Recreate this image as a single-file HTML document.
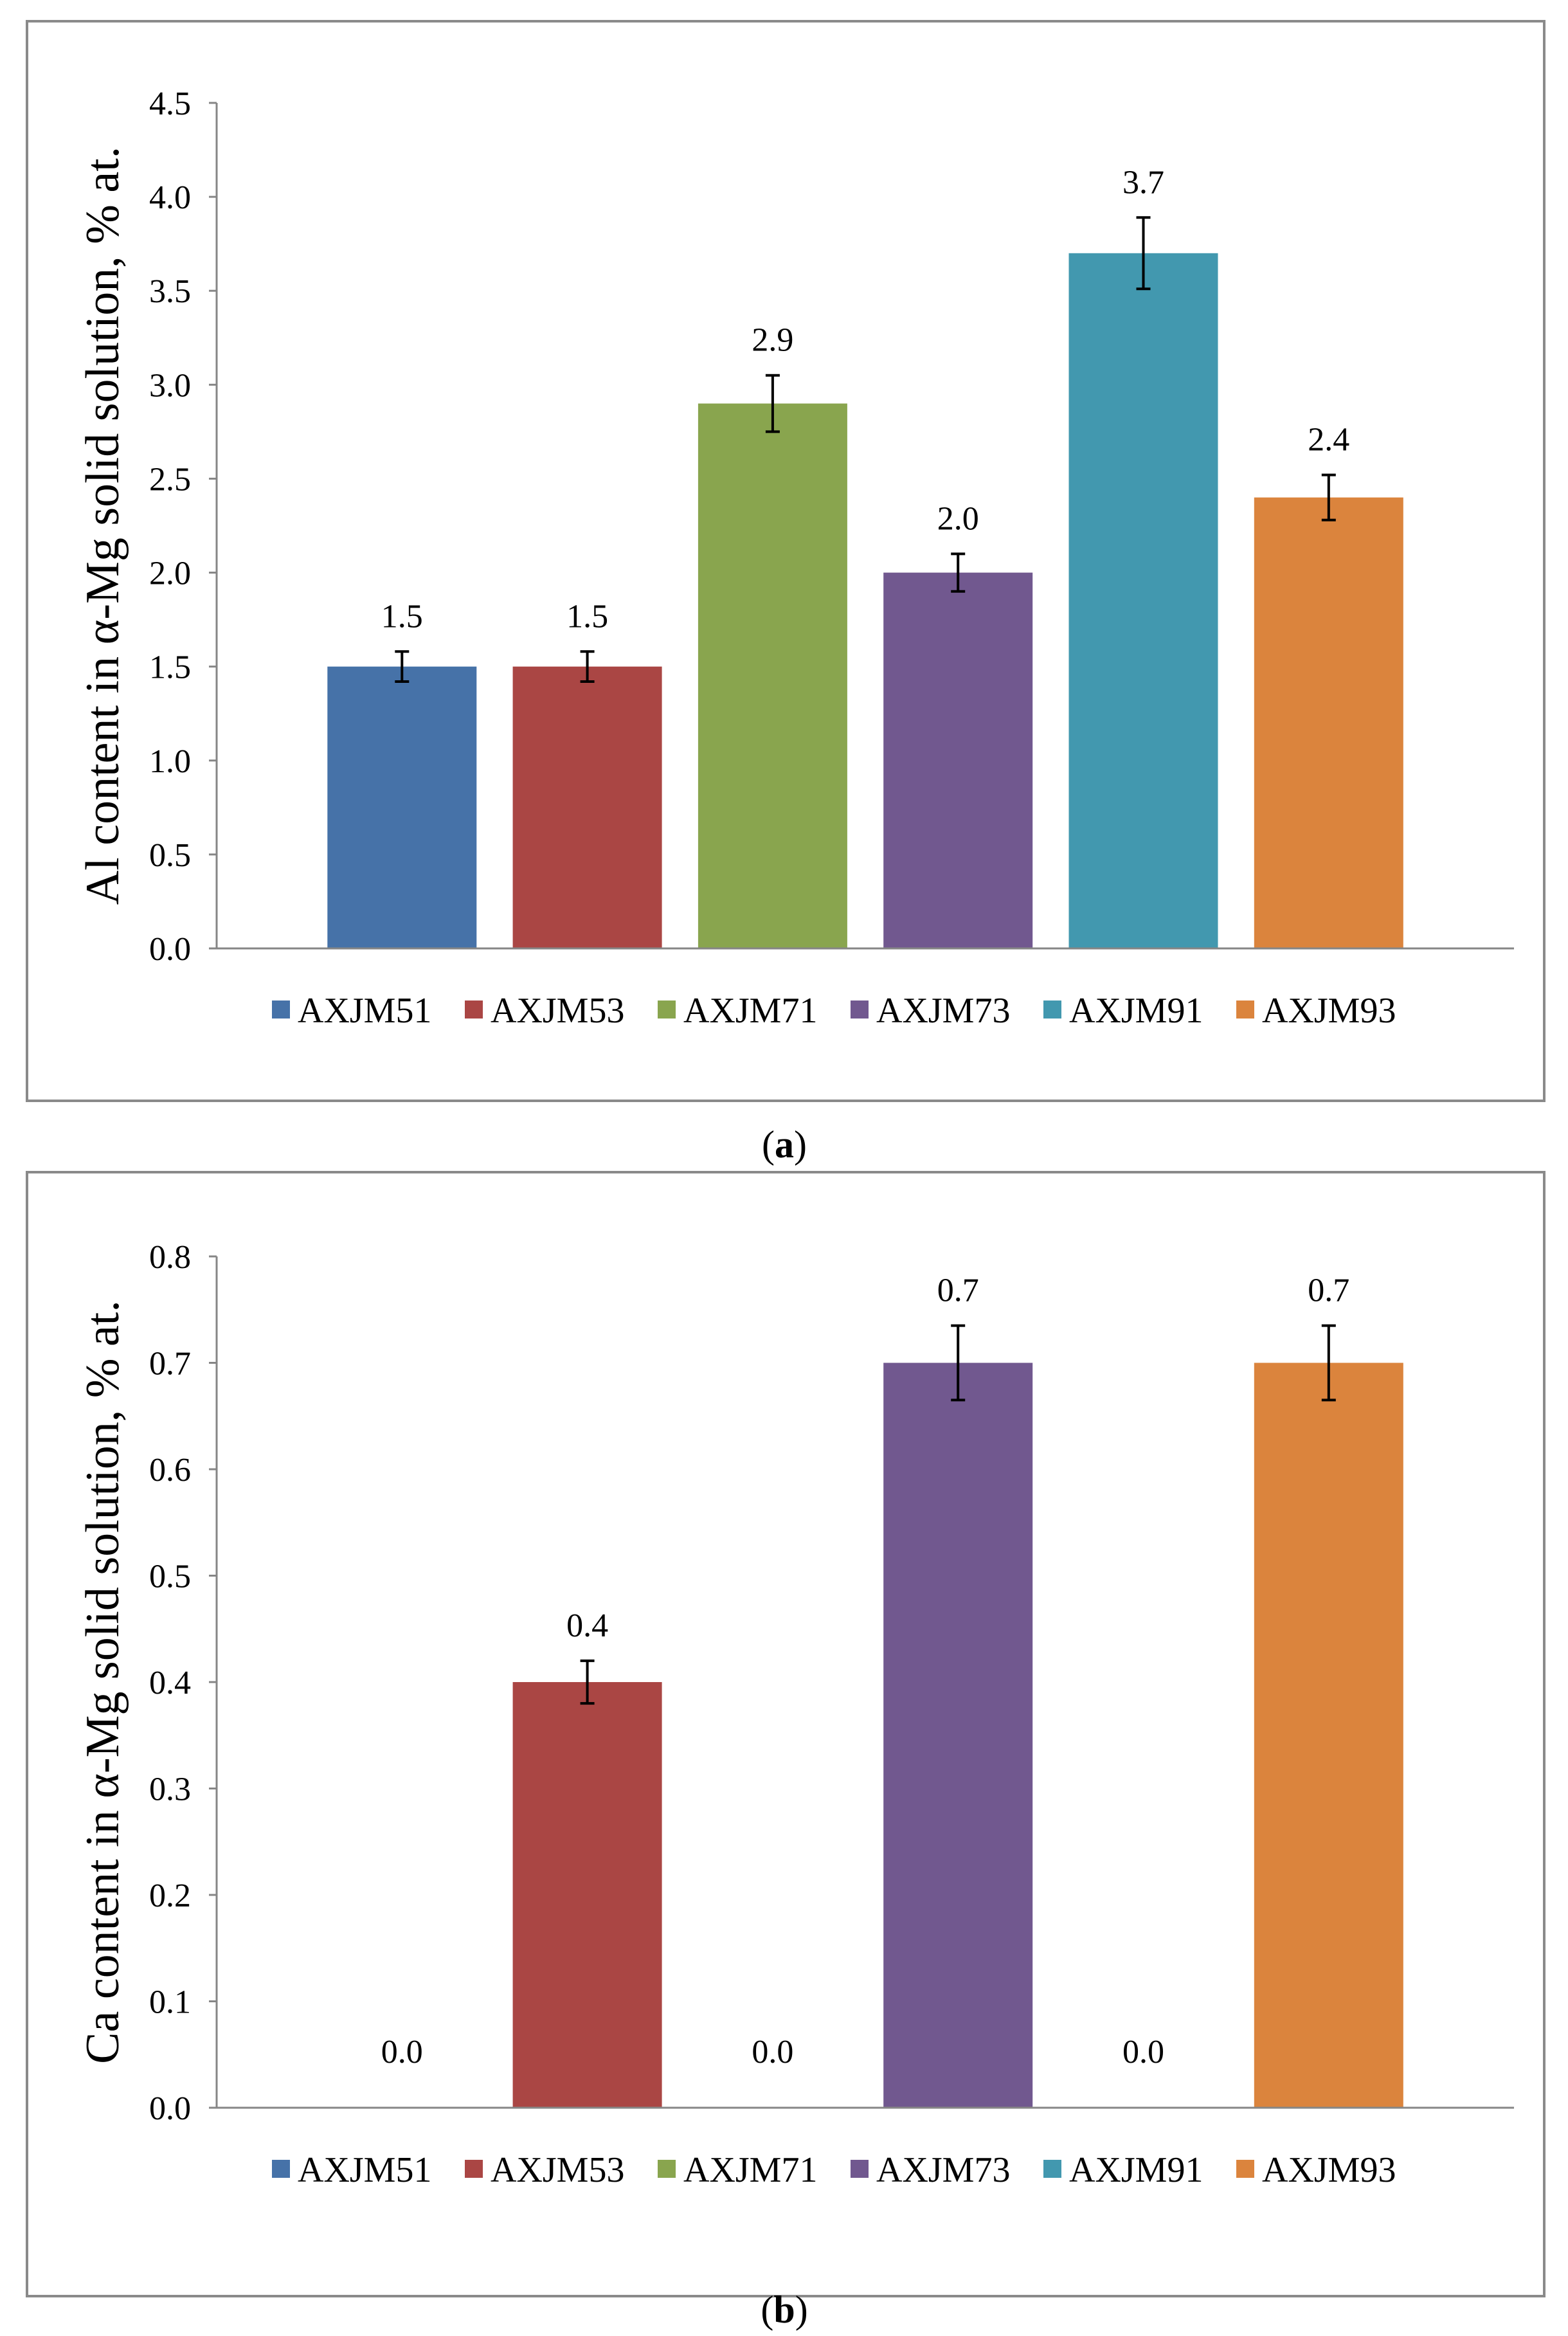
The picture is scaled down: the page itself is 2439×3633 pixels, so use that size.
<!DOCTYPE html>
<html><head><meta charset="utf-8"><style>
html,body{margin:0;padding:0;background:#fff;}
svg{display:block;font-family:"Liberation Serif","Times New Roman",serif;}
</style></head><body>
<svg id="fig" width="2439" height="3633" viewBox="0 0 2439 3633" xmlns="http://www.w3.org/2000/svg" font-family="Liberation Serif, serif">
<rect x="42" y="33" width="2360" height="1679" fill="none" stroke="#8a8a8a" stroke-width="4"/>
<text x="1220" y="1800" font-size="60" text-anchor="middle">(<tspan font-weight="bold">a</tspan>)</text>
<rect x="42" y="1823" width="2360" height="1748" fill="none" stroke="#8a8a8a" stroke-width="4"/>
<text x="1220" y="3612" font-size="60" text-anchor="middle">(<tspan font-weight="bold">b</tspan>)</text>
<g id="chartA"></g>
<g id="chartB"></g>
</svg>
<script>
const categories = ["AXJM51","AXJM53","AXJM71","AXJM73","AXJM91","AXJM93"];
const colors = ["#4672a8","#aa4644","#89a54e","#71588f","#4298af","#db843d"];
const valuesA = [1.5,1.5,2.9,2.0,3.7,2.4];
const errorsA = [0.08,0.08,0.15,0.1,0.19,0.12];
const labelsA = ["1.5","1.5","2.9","2.0","3.7","2.4"];
const ticksA = [0,0.5,1,1.5,2,2.5,3,3.5,4,4.5];
const tickLabelsA = ["0.0","0.5","1.0","1.5","2.0","2.5","3.0","3.5","4.0","4.5"];
const valuesB = [0,0.4,0,0.7,0,0.7];
const errorsB = [0,0.02,0,0.035,0,0.035];
const labelsB = ["0.0","0.4","0.0","0.7","0.0","0.7"];
const ticksB = [0,0.1,0.2,0.3,0.4,0.5,0.6,0.7,0.8];
const tickLabelsB = ["0.0","0.1","0.2","0.3","0.4","0.5","0.6","0.7","0.8"];
const NS="http://www.w3.org/2000/svg";
function mk(parent,tag,attrs,text){const e=document.createElementNS(NS,tag);for(const k in attrs)e.setAttribute(k,attrs[k]);if(text!==undefined)e.textContent=text;parent.appendChild(e);return e;}
function draw(g,cfg){
  const x0=337,x1=2355,y0=cfg.yBottom,y1=cfg.yTop,ymax=cfg.ymax;
  const yS=v=>y0-(v/ymax)*(y0-y1);
  const step=288.3,bw=232;
  const xC=i=>x0+(i+1)*step;
  const yt=mk(g,'text',{x:0,y:0,'font-size':74,'text-anchor':'middle',transform:`translate(${cfg.titleX},${(y0+y1)/2}) rotate(-90)`},cfg.title);
  
  
  cfg.ticks.forEach((t,i)=>{
    const tk=mk(g,'line',{x1:x0-12,x2:x0,y1:yS(t),y2:yS(t),stroke:'#868686','stroke-width':3});
    
    
    const tl=mk(g,'text',{x:297,y:yS(t)+18,'font-size':52,'text-anchor':'end'},cfg.tickLabels[i]);
    
    
  });
  cfg.values.forEach((v,i)=>{
    if(v>0){
      const r=mk(g,'rect',{x:xC(i)-bw/2,y:yS(v),width:bw,height:y0-yS(v),fill:colors[i]});
      
      
      const e=cfg.errors[i],cx=xC(i);
      const eb=mk(g,'path',{d:`M${cx},${yS(v+e)}V${yS(v-e)}M${cx-11},${yS(v+e)}H${cx+11}M${cx-11},${yS(v-e)}H${cx+11}`,stroke:'#000','stroke-width':4,fill:'none'});
      
      
    }
    const ly=v>0?yS(v+cfg.errors[i])-38:yS(0)-70;
    const lt=mk(g,'text',{x:xC(i),y:ly,'font-size':52,'text-anchor':'middle'},cfg.labels[i]);
    
    
  });
  const ya=mk(g,'line',{x1:x0,x2:x0,y1:y1,y2:y0,stroke:'#868686','stroke-width':3});
  
  
  const xa=mk(g,'line',{x1:x0,x2:x1,y1:y0,y2:y0,stroke:'#868686','stroke-width':3});
  
  
  categories.forEach((c,i)=>{
    const lx=423+i*300;
    const sq=mk(g,'rect',{x:lx,y:cfg.legY-14,width:28,height:28,fill:colors[i]});
    
    
    const lt=mk(g,'text',{x:lx+40,y:cfg.legY+20,'font-size':56},c);
    
    
  });
}
draw(document.getElementById('chartA'),{yTop:160,yBottom:1475,ymax:4.5,values:valuesA,errors:errorsA,labels:labelsA,ticks:ticksA,tickLabels:tickLabelsA,title:"Al content in α-Mg solid solution, % at.",titleX:184,legY:1570});
draw(document.getElementById('chartB'),{yTop:1954,yBottom:3278,ymax:0.8,values:valuesB,errors:errorsB,labels:labelsB,ticks:ticksB,tickLabels:tickLabelsB,title:"Ca content in α-Mg solid solution, % at.",titleX:184,legY:3373});
</script>
</body></html>
